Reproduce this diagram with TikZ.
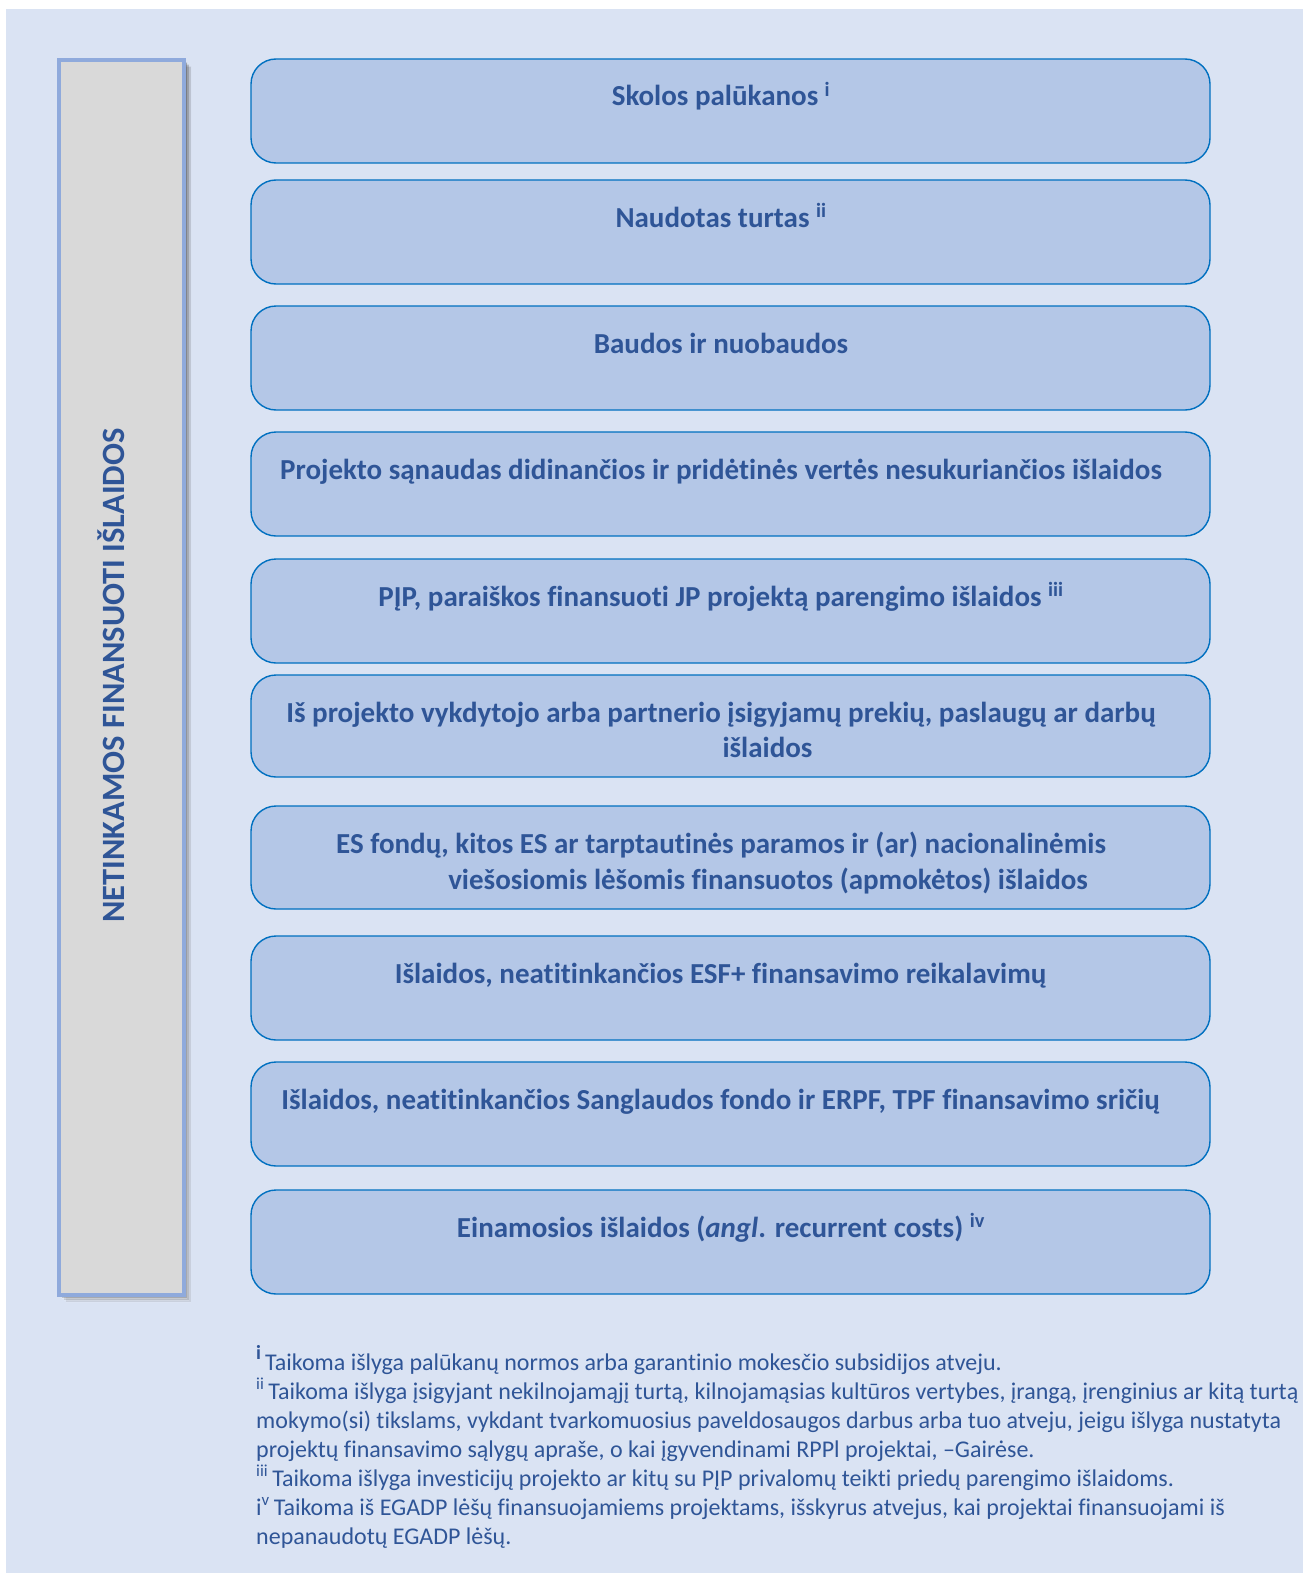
\documentclass[tikz,border=0pt]{standalone}
\usepackage{fontspec}
\setmainfont{Carlito}[RawFeature={-liga;-clig;-calt;-dlig}]
\definecolor{bg}{HTML}{DAE3F3}
\definecolor{boxfill}{HTML}{B4C7E7}
\definecolor{boxline}{HTML}{0070C0}
\definecolor{txt}{HTML}{2F5597}
\definecolor{sidefill}{HTML}{D9D9D9}
\definecolor{sideline}{HTML}{8FAADC}
\definecolor{shade}{HTML}{7F8899}
\begin{document}
\begin{tikzpicture}[x=1pt,y=-1pt,
  itembox/.style={draw=boxline, line width=1.4pt, fill=boxfill, rounded corners=25pt, inner sep=0pt, minimum width=959pt},
  itemtext/.style={text=txt, font=\fontsize{29}{35}\selectfont\bfseries, anchor=base, inner sep=0pt},
  notetext/.style={text=txt, font=\fontsize{24}{29}\selectfont, anchor=base west, inner sep=0pt},
  sidebox/.style={draw=sideline, line width=4pt, fill=sidefill, inner sep=0pt, minimum width=125pt, minimum height=1235pt},
  sidetext/.style={text=txt, font=\fontsize{32.5}{38}\selectfont\bfseries, rotate=90, inner sep=0pt}]
\useasboundingbox (0,0) rectangle (1303,1573);
\fill[white] (0,0) rectangle (1303,1573);
\fill[bg] (6,9) rectangle (1303,1573);
% shadow of the side box
\foreach \d/\o in {7/0.10,5/0.15,3/0.22}
  \fill[shade, opacity=\o] (59+\d,60+\d) rectangle (184+\d,1295+\d);
\node[sidebox] (side) at (121.5,677.5) {};
\node[sidetext] (sidelabel) at (111,675.5) {NETINKAMOS FINANSUOTI IŠLAIDOS};
% item boxes
\node[itembox, minimum height=104pt] (b1) at (730.5,111) {};
\node[itembox, minimum height=104pt] (b2) at (730.5,232) {};
\node[itembox, minimum height=104pt] (b3) at (730.5,358) {};
\node[itembox, minimum height=104pt] (b4) at (730.5,484) {};
\node[itembox, minimum height=104pt] (b5) at (730.5,611) {};
\node[itembox, minimum height=102pt] (b6) at (730.5,726) {};
\node[itembox, minimum height=103pt] (b7) at (730.5,857.5) {};
\node[itembox, minimum height=104pt] (b8) at (730.5,988) {};
\node[itembox, minimum height=104pt] (b9) at (730.5,1114) {};
\node[itembox, minimum height=104pt] (b10) at (730.5,1242) {};
% item texts
\node[itemtext] (t1) at (721,106) {Skolos palūkanos \textsuperscript{i}};
\node[itemtext] (t2) at (721,227) {Naudotas turtas \textsuperscript{ii}};
\node[itemtext] (t3) at (721,353) {Baudos ir nuobaudos};
\node[itemtext] (t4) at (721,479) {Projekto sąnaudas didinančios ir pridėtinės vertės nesukuriančios išlaidos};
\node[itemtext] (t5) at (721,606) {PĮP, paraiškos finansuoti JP projektą parengimo išlaidos \textsuperscript{iii}};
\node[itemtext] (t6a) at (721,722) {Iš projekto vykdytojo arba partnerio įsigyjamų prekių, paslaugų ar darbų};
\node[itemtext] (t6b) at (767.5,757) {išlaidos};
\node[itemtext] (t7a) at (721,853) {ES fondų, kitos ES ar tarptautinės paramos ir (ar) nacionalinėmis};
\node[itemtext] (t7b) at (768,889) {viešosiomis lėšomis finansuotos (apmokėtos) išlaidos};
\node[itemtext] (t8) at (720.5,983) {Išlaidos, neatitinkančios ESF+ finansavimo reikalavimų};
\node[itemtext] (t9) at (720.5,1109) {Išlaidos, neatitinkančios Sanglaudos fondo ir ERPF, TPF finansavimo sričių};
\node[itemtext] (t10) at (721,1237) {Einamosios išlaidos (\textit{angl}. recurrent costs) \textsuperscript{iv}};
% footnotes
\node[notetext] (n1) at (256,1370) {\raisebox{11pt}{\fontsize{20}{24}\selectfont\bfseries i}\,Taikoma išlyga palūkanų normos arba garantinio mokesčio subsidijos atveju.};
\node[notetext] (n2) at (256,1399) {\textsuperscript{ii}\,Taikoma išlyga įsigyjant nekilnojamąjį turtą, kilnojamąsias kultūros vertybes, įrangą, įrenginius ar kitą turtą};
\node[notetext] (n3) at (256,1428) {mokymo(si) tikslams, vykdant tvarkomuosius paveldosaugos darbus arba tuo atveju, jeigu išlyga nustatyta};
\node[notetext] (n4) at (256,1457) {projektų finansavimo sąlygų apraše, o kai įgyvendinami RPPl projektai, –Gairėse.};
\node[notetext] (n5) at (256,1486) {\textsuperscript{iii}\,Taikoma išlyga investicijų projekto ar kitų su PĮP privalomų teikti priedų parengimo išlaidoms.};
\node[notetext] (n6) at (256,1515) {i\textsuperscript{v}\,Taikoma iš EGADP lėšų finansuojamiems projektams, išskyrus atvejus, kai projektai finansuojami iš};
\node[notetext] (n7) at (256,1544) {nepanaudotų EGADP lėšų.};
\end{tikzpicture}
\end{document}
